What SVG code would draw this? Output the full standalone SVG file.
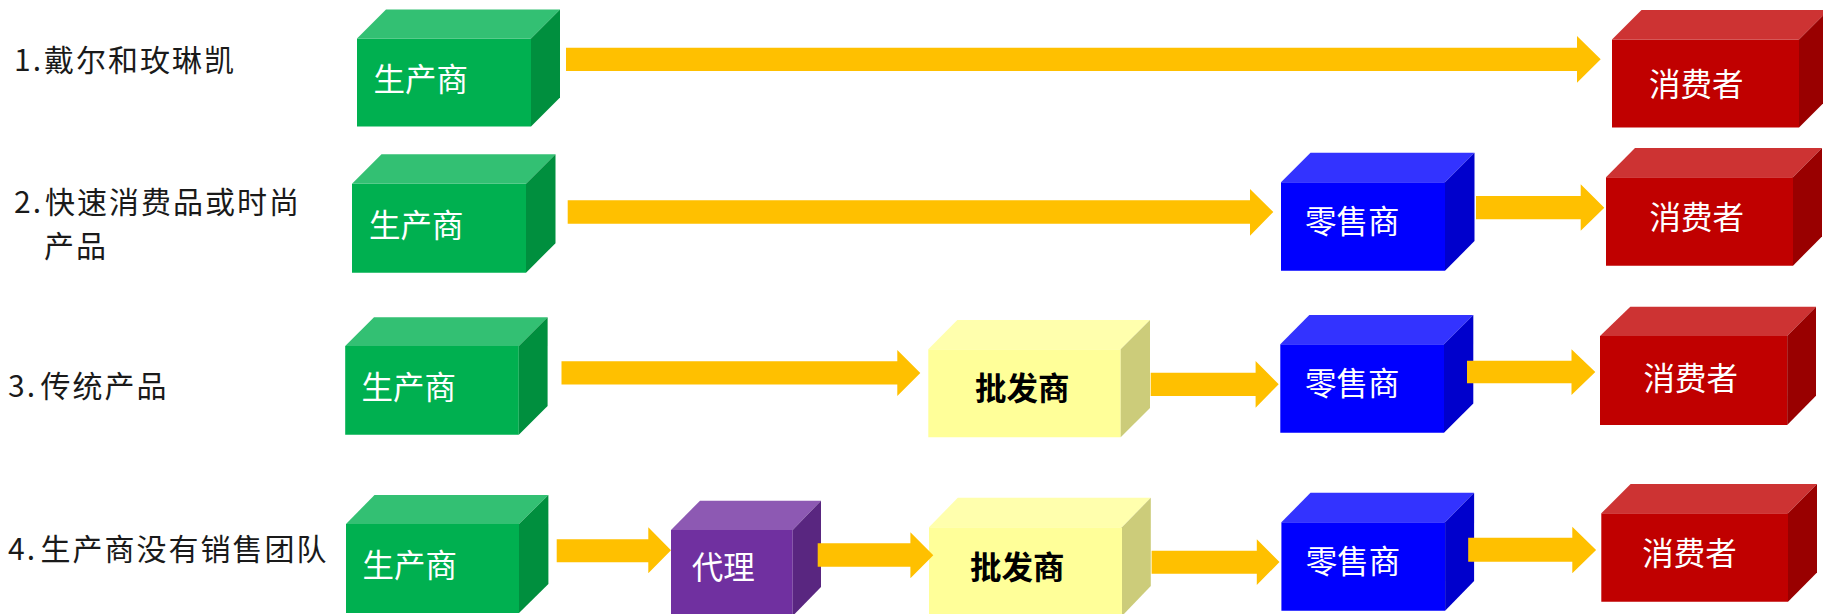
<svg xmlns="http://www.w3.org/2000/svg" width="1823" height="614" viewBox="0 0 1823 614">
<style>
.lbl{font-family:"Noto Sans CJK SC","Noto Sans",sans-serif;font-size:30px;fill:#1a1a1a;letter-spacing:2px}
.bt{font-family:"Noto Sans CJK SC",sans-serif;font-size:31.5px;fill:#ffffff;dominant-baseline:central}
.bk{fill:#000000;font-weight:bold}
.gF{fill:#00B050}.gT{fill:#33C073}.gS{fill:#008F3E}
.rF{fill:#C00000}.rT{fill:#CD3333}.rS{fill:#990000}
.bF{fill:#0000FF}.bT{fill:#3333FF}.bS{fill:#0000CC}
.yF{fill:#FFFF99}.yT{fill:#FFFFAD}.yS{fill:#CCCC7A}
.pF{fill:#7030A0}.pT{fill:#8D59B3}.pS{fill:#592680}
.arr{fill:#FFC000}
</style>
<g id="labels">
<text class="lbl" y="58.3" dominant-baseline="central"><tspan x="14">1.</tspan><tspan x="44">戴尔和玫琳凯</tspan></text>
<text class="lbl" y="199.5" dominant-baseline="central"><tspan x="14">2.</tspan><tspan x="45">快速消费品或时尚</tspan></text>
<text class="lbl" x="44" y="243.5" dominant-baseline="central">产品</text>
<text class="lbl" y="383.7" dominant-baseline="central"><tspan x="8">3.</tspan><tspan x="40.5">传统产品</tspan></text>
<text class="lbl" y="546.5" dominant-baseline="central"><tspan x="8">4.</tspan><tspan x="40.5">生产商没有销售团队</tspan></text>
</g>
<g id="n-g1"><polygon class="gF" points="357,38.5 531,38.5 531,126.5 357,126.5"/><polygon class="gT" points="357,38.5 386,9.5 560,9.5 531,38.5"/><polygon class="gS" points="531,38.5 560,9.5 560,97.5 531,126.5"/><text class="bt" x="373.5" y="76.7">生产商</text></g>
<g id="n-r1"><polygon class="rF" points="1612,39.5 1799,39.5 1799,127.5 1612,127.5"/><polygon class="rT" points="1612,39.5 1641.5,10 1828.5,10 1799,39.5"/><polygon class="rS" points="1799,39.5 1828.5,10 1828.5,98 1799,127.5"/><text class="bt" x="1649" y="81.7">消费者</text></g>
<g id="n-g2"><polygon class="gF" points="352,183.7 526,183.7 526,272.7 352,272.7"/><polygon class="gT" points="352,183.7 381.5,154.3 555.5,154.3 526,183.7"/><polygon class="gS" points="526,183.7 555.5,154.3 555.5,243.2 526,272.7"/><text class="bt" x="369" y="222.5">生产商</text></g>
<g id="n-b2"><polygon class="bF" points="1281,182.3 1445,182.3 1445,270.7 1281,270.7"/><polygon class="bT" points="1281,182.3 1310.5,152.7 1474.5,152.7 1445,182.3"/><polygon class="bS" points="1445,182.3 1474.5,152.7 1474.5,241.1 1445,270.7"/><text class="bt" x="1305" y="219.2">零售商</text></g>
<g id="n-r2"><polygon class="rF" points="1606,177.3 1793,177.3 1793,265.7 1606,265.7"/><polygon class="rT" points="1606,177.3 1635,148 1822,148 1793,177.3"/><polygon class="rS" points="1793,177.3 1822,148 1822,236.4 1793,265.7"/><text class="bt" x="1649.5" y="215">消费者</text></g>
<g id="n-g3"><polygon class="gF" points="345.2,346 518.8,346 518.8,434.7 345.2,434.7"/><polygon class="gT" points="345.2,346 374,317.3 547.6,317.3 518.8,346"/><polygon class="gS" points="518.8,346 547.6,317.3 547.6,406 518.8,434.7"/><text class="bt" x="361.5" y="385">生产商</text></g>
<g id="n-y3"><polygon class="yF" points="928.3,349.3 1120.7,349.3 1120.7,437.3 928.3,437.3"/><polygon class="yT" points="928.3,349.3 957.3,320 1150,320 1120.7,349.3"/><polygon class="yS" points="1120.7,349.3 1150,320 1150,408 1120.7,437.3"/><text class="bt bk" x="975" y="385.8">批发商</text></g>
<g id="n-b3"><polygon class="bF" points="1280.3,344.3 1444,344.3 1444,432.7 1280.3,432.7"/><polygon class="bT" points="1280.3,344.3 1309.3,315 1473.3,315 1444,344.3"/><polygon class="bS" points="1444,344.3 1473.3,315 1473.3,403.4 1444,432.7"/><text class="bt" x="1305" y="381">零售商</text></g>
<g id="n-r3"><polygon class="rF" points="1600,336 1787.2,336 1787.2,425 1600,425"/><polygon class="rT" points="1600,336 1630.3,306.7 1816,306.7 1787.2,336"/><polygon class="rS" points="1787.2,336 1816,306.7 1816,395.7 1787.2,425"/><text class="bt" x="1643.5" y="376.2">消费者</text></g>
<g id="n-g4"><polygon class="gF" points="346,524 519,524 519,613 346,613"/><polygon class="gT" points="346,524 374.5,495 548.4,495 519,524"/><polygon class="gS" points="519,524 548.4,495 548.4,584 519,613"/><text class="bt" x="362.5" y="563">生产商</text></g>
<g id="n-p4"><polygon class="pF" points="671,530 792.7,530 792.7,616 671,616"/><polygon class="pT" points="671,530 700,500.7 821,500.7 792.7,530"/><polygon class="pS" points="792.7,530 821,500.7 821,587 792.7,616"/><text class="bt" x="691.8" y="565.3">代理</text></g>
<g id="n-y4"><polygon class="yF" points="929,527.3 1122,527.3 1122,616 929,616"/><polygon class="yT" points="929,527.3 957.8,497.7 1150.8,497.7 1122,527.3"/><polygon class="yS" points="1122,527.3 1150.8,497.7 1150.8,586 1122,616"/><text class="bt bk" x="970" y="564.5">批发商</text></g>
<g id="n-b4"><polygon class="bF" points="1281.4,522.3 1445.1,522.3 1445.1,610.7 1281.4,610.7"/><polygon class="bT" points="1281.4,522.3 1310.5,492.7 1474.1,492.7 1445.1,522.3"/><polygon class="bS" points="1445.1,522.3 1474.1,492.7 1474.1,581 1445.1,610.7"/><text class="bt" x="1305.8" y="558.8">零售商</text></g>
<g id="n-r4"><polygon class="rF" points="1601.3,513.3 1788,513.3 1788,601.7 1601.3,601.7"/><polygon class="rT" points="1601.3,513.3 1630.6,484 1817,484 1788,513.3"/><polygon class="rS" points="1788,513.3 1817,484 1817,572.4 1788,601.7"/><text class="bt" x="1642.3" y="550.5">消费者</text></g>
<g id="connectors">
<polygon class="arr" points="566,47.7 1577,47.7 1577,36 1600.7,59.3 1577,82.7 1577,71 566,71"/>
<polygon class="arr" points="567.7,200.3 1250,200.3 1250,189 1273.3,212 1250,235.7 1250,223.7 567.7,223.7"/>
<polygon class="arr" points="1476,196 1580.7,196 1580.7,184.3 1604.3,207.7 1580.7,230.7 1580.7,219.3 1476,219.3"/>
<polygon class="arr" points="561.5,361.3 897.3,361.3 897.3,350 920.3,373 897.3,396 897.3,384.6 561.5,384.6"/>
<polygon class="arr" points="1150.7,372.7 1255.6,372.7 1255.6,361 1278.7,384.3 1255.6,407.7 1255.6,396 1150.7,396"/>
<polygon class="arr" points="1467,360.7 1571.5,360.7 1571.5,349.3 1595.3,372 1571.5,395 1571.5,383.3 1467,383.3"/>
<polygon class="arr" points="556.7,539.2 648.3,539.2 648.3,527.3 671,550.3 648.3,573.3 648.3,562.2 556.7,562.2"/>
<polygon class="arr" points="817.7,543.3 910.4,543.3 910.4,532.3 933.3,555.3 910.4,578.3 910.4,566.7 817.7,566.7"/>
<polygon class="arr" points="1151.6,550.7 1256.8,550.7 1256.8,539.3 1279.5,562 1256.8,585 1256.8,573.7 1151.6,573.7"/>
<polygon class="arr" points="1468.2,537.7 1572.3,537.7 1572.3,526.7 1596.1,550 1572.3,573.3 1572.3,561.7 1468.2,561.7"/>
</g>
</svg>
